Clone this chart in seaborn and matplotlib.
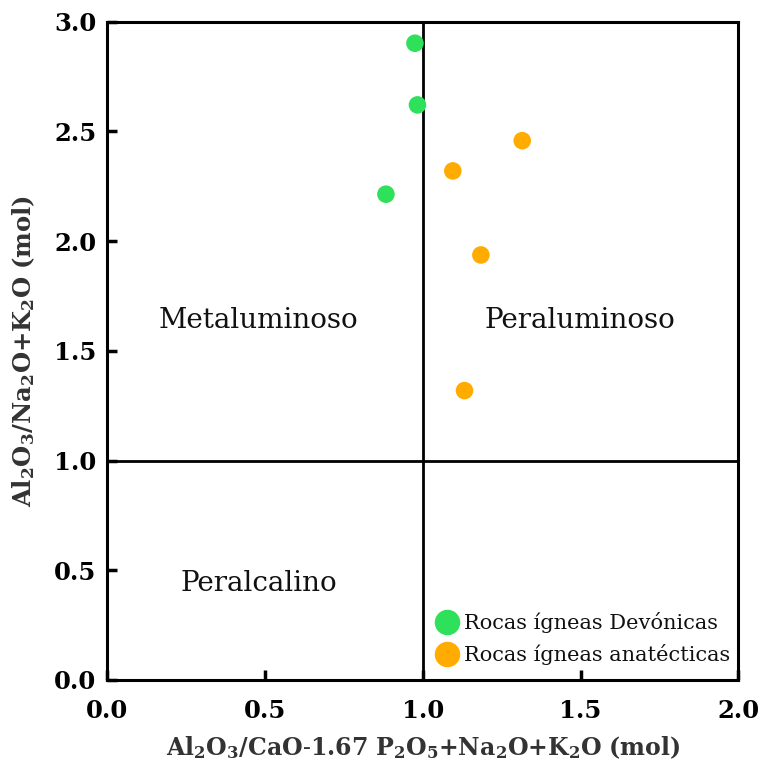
import matplotlib
matplotlib.use("Agg")
import matplotlib.pyplot as plt
import seaborn as sns
import pandas as pd

# Sample groups and their molar ratios
groups = ["Rocas ígneas Devónicas", "Rocas ígneas anatécticas"]
acnk_devonicas = [0.975, 0.983, 0.883]
ank_devonicas = [2.902, 2.621, 2.214]
acnk_anatecticas = [1.315, 1.095, 1.184, 1.132]
ank_anatecticas = [2.458, 2.320, 1.937, 1.319]

x_ticks = [0.0, 0.5, 1.0, 1.5, 2.0]
y_ticks = [0.0, 0.5, 1.0, 1.5, 2.0, 2.5, 3.0]

df = pd.DataFrame({
    "acnk": acnk_devonicas + acnk_anatecticas,
    "ank": ank_devonicas + ank_anatecticas,
    "grupo": [groups[0]] * len(acnk_devonicas) + [groups[1]] * len(acnk_anatecticas),
})

sns.set_theme(style="white")
plt.rcParams["font.family"] = ["DejaVu Serif"]
plt.rcParams["mathtext.fontset"] = "dejavuserif"

fig = plt.figure(figsize=(7.64, 7.60), dpi=100)
ax = fig.add_axes([0.1405, 0.1053, 0.8259, 0.8661])

palette = {groups[0]: "#2ee05a", groups[1]: "#ffab00"}
sns.scatterplot(data=df, x="acnk", y="ank", hue="grupo", palette=palette,
                s=160, edgecolor="none", ax=ax, zorder=3)

ax.set_xlim(0, 2)
ax.set_ylim(0, 3)
ax.set_xticks(x_ticks)
ax.set_yticks(y_ticks)
ax.set_xticklabels([f"{v:.1f}" for v in x_ticks], fontweight="bold",
                   fontsize=17.5, color="black")
ax.set_yticklabels([f"{v:.1f}" for v in y_ticks], fontweight="bold",
                   fontsize=17.5, color="black")
ax.tick_params(axis="both", direction="in", length=7, width=2.5, color="black",
               bottom=True, left=True, top=False, right=False, pad=8)
ax.tick_params(axis="x", pad=14)

for side in ax.spines.values():
    side.set_linewidth(2.2)
    side.set_color("black")

# Field boundaries A/CNK = 1 and A/NK = 1
ax.axvline(1.0, color="black", lw=2.0, zorder=2)
ax.axhline(1.0, color="black", lw=2.0, zorder=2)

ax.text(0.478, 1.64, "Metaluminoso", fontsize=20, ha="center", va="center",
        color="#111111")
ax.text(1.497, 1.64, "Peraluminoso", fontsize=20, ha="center", va="center",
        color="#111111")
ax.text(0.48, 0.44, "Peralcalino", fontsize=20, ha="center", va="center",
        color="#111111")

ax.set_xlabel(r"$\mathbf{Al_2O_3/CaO\text{-}1.67\ P_2O_5{+}Na_2O{+}K_2O\ (mol)}$",
              fontsize=17, color="#333333", labelpad=8)
ax.set_ylabel(r"$\mathbf{Al_2O_3/Na_2O{+}K_2O\ (mol)}$",
              fontsize=17.5, color="#333333", labelpad=12)

handles, labels = ax.get_legend_handles_labels()
leg = ax.legend(handles, labels, loc="lower right", frameon=False, fontsize=15,
                markerscale=1.45, handletextpad=0.0, handlelength=1.6,
                borderaxespad=0.3, labelspacing=0.55, bbox_to_anchor=(1.01, 0.0))
for t in leg.get_texts():
    t.set_color("#111111")

fig.savefig("out.png", dpi=100)
